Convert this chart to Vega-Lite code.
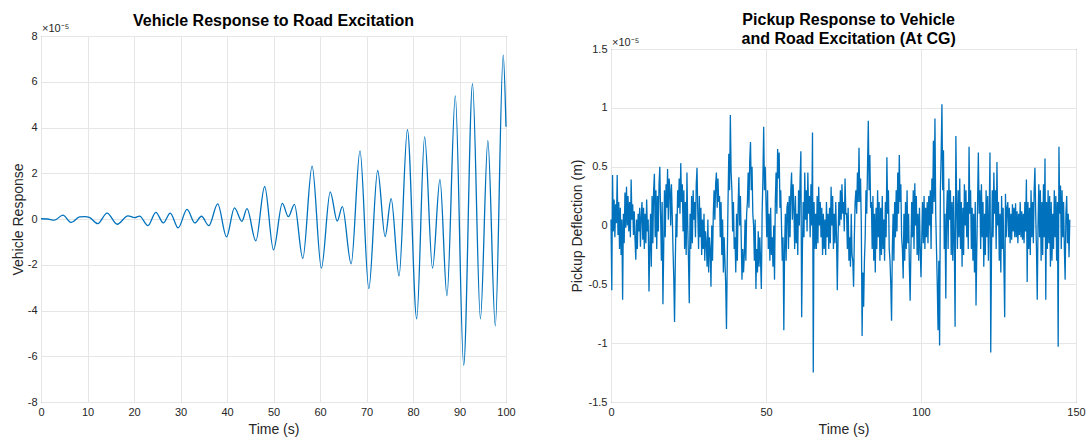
{
  "$schema": "https://vega.github.io/schema/vega-lite/v6.json",
  "padding": {"left": 10, "top": 11, "right": 0, "bottom": 0},
  "background": "white",
  "config": {
    "font": "Liberation Sans",
    "view": {"stroke": "#5a5a5a", "strokeWidth": 1},
    "axis": {
      "labelFont": "Liberation Sans", "labelFontSize": 11, "labelColor": "#262626",
      "titleFont": "Liberation Sans", "titleFontSize": 14, "titleFontWeight": "normal", "titleColor": "#262626",
      "gridColor": "#e6e6e6", "gridWidth": 1, "domain": false, "labelFlush": false,
      "ticks": false, "labelPadding": 4, "labelExpr": "datum.value + ''"
    },
    "title": {"font": "Liberation Sans", "fontSize": 16, "fontWeight": "bold", "color": "#000000", "anchor": "middle", "lineHeight": 19}
  },
  "datasets": {
    "vehicle": [
      {"t":0,"v":0.01},{"t":1.4,"v":0.0},{"t":2.9,"v":-0.05},{"t":4.7,"v":0.17},{"t":6.5,"v":-0.15},{"t":8.3,"v":0.09},{"t":9.4,"v":0.1},{"t":10.4,"v":0.07},{"t":12.2,"v":-0.2},{"t":14.2,"v":0.26},{"t":16.4,"v":-0.23},{"t":18.7,"v":0.14},{"t":20.1,"v":0.06},{"t":21.2,"v":0.13},{"t":23.0,"v":-0.29},{"t":24.7,"v":0.29},{"t":26.3,"v":-0.17},{"t":27.8,"v":0.26},{"t":29.5,"v":-0.39},{"t":31.4,"v":0.42},{"t":33.1,"v":-0.17},{"t":34.5,"v":0.12},{"t":36.1,"v":-0.29},{"t":38.0,"v":0.66},{"t":39.9,"v":-0.78},{"t":41.6,"v":0.49},{"t":43.2,"v":-0.1},{"t":44.3,"v":0.45},{"t":46.2,"v":-0.96},{"t":48.1,"v":1.42},{"t":50.0,"v":-1.35},{"t":51.9,"v":0.68},{"t":53.2,"v":0.1},{"t":54.5,"v":0.64},{"t":56.3,"v":-1.72},{"t":58.3,"v":2.31},{"t":60.3,"v":-2.15},{"t":62.2,"v":1.19},{"t":63.7,"v":-0.09},{"t":64.8,"v":0.54},{"t":66.7,"v":-1.96},{"t":68.6,"v":2.98},{"t":70.5,"v":-3.04},{"t":72.4,"v":2.12},{"t":74.0,"v":-0.77},{"t":75.3,"v":0.89},{"t":77.0,"v":-2.49},{"t":78.8,"v":3.91},{"t":80.8,"v":-4.36},{"t":82.5,"v":3.59},{"t":84.2,"v":-2.15},{"t":85.8,"v":1.73},{"t":87.3,"v":-3.36},{"t":89.1,"v":5.38},{"t":90.9,"v":-6.4},{"t":92.8,"v":5.92},{"t":94.5,"v":-4.36},{"t":96.1,"v":3.42},{"t":97.7,"v":-4.67},{"t":99.4,"v":7.16},{"t":100,"v":4.03}
    ],
    "pickup": [
      {"t":0,"v":0.05},{"t":0.25,"v":-0.55},{"t":0.5,"v":0.43},{"t":0.75,"v":-0.05},
      {"t":1,"v":0.22},{"t":1.25,"v":-0.1},{"t":1.5,"v":0.18},{"t":1.75,"v":0.02},
      {"t":2,"v":0.43},{"t":2.25,"v":-0.08},{"t":2.5,"v":0.2},{"t":2.75,"v":-0.2},
      {"t":3,"v":0.15},{"t":3.25,"v":-0.25},{"t":3.5,"v":0.05},{"t":3.75,"v":-0.63},
      {"t":4,"v":0.1},{"t":4.25,"v":-0.15},{"t":4.5,"v":0.28},{"t":4.75,"v":-0.02},
      {"t":5,"v":0.33},{"t":5.25,"v":0.0},{"t":5.5,"v":0.25},{"t":5.75,"v":-0.05},
      {"t":6,"v":0.2},{"t":6.25,"v":-0.1},{"t":6.5,"v":0.39},{"t":6.75,"v":0.05},
      {"t":7,"v":0.18},{"t":7.25,"v":-0.08},{"t":7.5,"v":0.12},{"t":7.75,"v":-0.12},
      {"t":8,"v":-0.29},{"t":8.25,"v":0.05},{"t":8.5,"v":-0.2},{"t":8.75,"v":0.1},
      {"t":9,"v":-0.05},{"t":9.25,"v":0.15},{"t":9.5,"v":-0.18},{"t":9.75,"v":0.08},
      {"t":10,"v":0.2},{"t":10.25,"v":-0.12},{"t":10.5,"v":0.15},{"t":10.75,"v":-0.2},
      {"t":11,"v":0.1},{"t":11.25,"v":-0.15},{"t":11.5,"v":0.22},{"t":11.75,"v":-0.05},
      {"t":12,"v":0.05},{"t":12.25,"v":-0.56},{"t":12.5,"v":-0.2},{"t":12.75,"v":0.1},
      {"t":13,"v":-0.35},{"t":13.25,"v":0.25},{"t":13.5,"v":-0.15},{"t":13.75,"v":0.3},
      {"t":14,"v":0.44},{"t":14.25,"v":-0.1},{"t":14.5,"v":0.3},{"t":14.75,"v":-0.2},
      {"t":15,"v":0.25},{"t":15.25,"v":-0.05},{"t":15.5,"v":0.35},{"t":15.75,"v":0.5},
      {"t":16,"v":0.1},{"t":16.25,"v":-0.3},{"t":16.5,"v":0.2},{"t":16.75,"v":-0.67},
      {"t":17,"v":-0.2},{"t":17.25,"v":0.3},{"t":17.5,"v":-0.1},{"t":17.75,"v":0.35},
      {"t":18,"v":0.15},{"t":18.25,"v":0.48},{"t":18.5,"v":0.05},{"t":18.75,"v":0.4},
      {"t":19,"v":0.3},{"t":19.25,"v":0.0},{"t":19.5,"v":0.35},{"t":19.75,"v":0.1},
      {"t":20,"v":-0.2},{"t":20.25,"v":-0.45},{"t":20.5,"v":-0.82},{"t":20.75,"v":-0.3},
      {"t":21,"v":0.1},{"t":21.25,"v":-0.1},{"t":21.5,"v":0.3},{"t":21.75,"v":0.15},
      {"t":22,"v":0.4},{"t":22.25,"v":0.1},{"t":22.5,"v":0.53},{"t":22.75,"v":0.2},
      {"t":23,"v":0.35},{"t":23.25,"v":-0.05},{"t":23.5,"v":0.3},{"t":23.75,"v":-0.2},
      {"t":24,"v":0.2},{"t":24.25,"v":-0.25},{"t":24.5,"v":0.45},{"t":24.75,"v":0.0},
      {"t":25,"v":-0.3},{"t":25.25,"v":-0.66},{"t":25.5,"v":0.1},{"t":25.75,"v":-0.2},
      {"t":26,"v":0.25},{"t":26.25,"v":-0.15},{"t":26.5,"v":0.3},{"t":26.75,"v":0.05},
      {"t":27,"v":0.2},{"t":27.25,"v":-0.1},{"t":27.5,"v":0.35},{"t":27.75,"v":0.49},
      {"t":28,"v":0.1},{"t":28.25,"v":-0.2},{"t":28.5,"v":0.25},{"t":28.75,"v":-0.1},
      {"t":29,"v":0.15},{"t":29.25,"v":-0.25},{"t":29.5,"v":0.05},{"t":29.75,"v":-0.2},
      {"t":30,"v":0.1},{"t":30.25,"v":-0.3},{"t":30.5,"v":-0.05},{"t":30.75,"v":-0.15},
      {"t":31,"v":-0.35},{"t":31.25,"v":0.05},{"t":31.5,"v":-0.4},{"t":31.75,"v":-0.1},
      {"t":32,"v":-0.2},{"t":32.25,"v":-0.52},{"t":32.5,"v":0.0},{"t":32.75,"v":-0.3},
      {"t":33,"v":0.1},{"t":33.25,"v":0.3},{"t":33.5,"v":0.05},{"t":33.75,"v":0.35},
      {"t":34,"v":0.45},{"t":34.25,"v":0.15},{"t":34.5,"v":0.4},{"t":34.75,"v":0.2},
      {"t":35,"v":0.25},{"t":35.25,"v":-0.1},{"t":35.5,"v":0.2},{"t":35.75,"v":-0.25},
      {"t":36,"v":0.05},{"t":36.25,"v":-0.4},{"t":36.5,"v":-0.1},{"t":36.75,"v":-0.3},
      {"t":37,"v":-0.5},{"t":37.25,"v":-0.88},{"t":37.5,"v":-0.3},{"t":37.75,"v":0.2},
      {"t":38,"v":0.61},{"t":38.25,"v":0.3},{"t":38.5,"v":0.94},{"t":38.75,"v":0.45},
      {"t":39,"v":0.3},{"t":39.25,"v":-0.05},{"t":39.5,"v":0.2},{"t":39.75,"v":-0.2},
      {"t":40,"v":-0.1},{"t":40.25,"v":-0.4},{"t":40.5,"v":0.1},{"t":40.75,"v":-0.3},
      {"t":41,"v":0.15},{"t":41.25,"v":0.41},{"t":41.5,"v":0.0},{"t":41.75,"v":0.25},
      {"t":42,"v":-0.1},{"t":42.25,"v":-0.46},{"t":42.5,"v":-0.2},{"t":42.75,"v":-0.4},
      {"t":43,"v":-0.25},{"t":43.25,"v":0.05},{"t":43.5,"v":-0.3},{"t":43.75,"v":0.1},
      {"t":44,"v":0.2},{"t":44.25,"v":0.45},{"t":44.5,"v":0.15},{"t":44.75,"v":0.55},
      {"t":45,"v":0.71},{"t":45.25,"v":0.3},{"t":45.5,"v":0.5},{"t":45.75,"v":0.1},
      {"t":46,"v":0.0},{"t":46.25,"v":-0.3},{"t":46.5,"v":0.05},{"t":46.75,"v":-0.54},
      {"t":47,"v":-0.2},{"t":47.25,"v":-0.4},{"t":47.5,"v":-0.05},{"t":47.75,"v":-0.35},
      {"t":48,"v":-0.1},{"t":48.25,"v":-0.3},{"t":48.5,"v":-0.54},{"t":48.75,"v":0.1},
      {"t":49,"v":0.4},{"t":49.25,"v":0.84},{"t":49.5,"v":0.3},{"t":49.75,"v":0.5},
      {"t":50,"v":0.2},{"t":50.25,"v":-0.1},{"t":50.5,"v":0.3},{"t":50.75,"v":-0.2},
      {"t":51,"v":0.1},{"t":51.25,"v":-0.3},{"t":51.5,"v":0.15},{"t":51.75,"v":-0.25},
      {"t":52,"v":-0.1},{"t":52.25,"v":-0.35},{"t":52.5,"v":0.0},{"t":52.75,"v":-0.46},
      {"t":53,"v":0.2},{"t":53.25,"v":0.45},{"t":53.5,"v":0.1},{"t":53.75,"v":0.65},
      {"t":54,"v":0.4},{"t":54.25,"v":0.62},{"t":54.5,"v":0.15},{"t":54.75,"v":0.3},
      {"t":55,"v":0.0},{"t":55.25,"v":-0.3},{"t":55.5,"v":-0.1},{"t":55.75,"v":-0.89},
      {"t":56,"v":-0.2},{"t":56.25,"v":0.1},{"t":56.5,"v":-0.3},{"t":56.75,"v":0.15},
      {"t":57,"v":0.2},{"t":57.25,"v":-0.2},{"t":57.5,"v":0.25},{"t":57.75,"v":-0.1},
      {"t":58,"v":0.3},{"t":58.25,"v":0.45},{"t":58.5,"v":0.05},{"t":58.75,"v":0.35},
      {"t":59,"v":0.15},{"t":59.25,"v":-0.2},{"t":59.5,"v":0.25},{"t":59.75,"v":-0.15},
      {"t":60,"v":0.1},{"t":60.25,"v":-0.25},{"t":60.5,"v":0.3},{"t":60.75,"v":0.0},
      {"t":61,"v":0.4},{"t":61.25,"v":0.63},{"t":61.5,"v":-0.78},{"t":61.75,"v":-0.2},
      {"t":62,"v":0.2},{"t":62.25,"v":-0.1},{"t":62.5,"v":0.45},{"t":62.75,"v":0.05},
      {"t":63,"v":0.3},{"t":63.25,"v":-0.05},{"t":63.5,"v":0.45},{"t":63.75,"v":0.1},
      {"t":64,"v":0.25},{"t":64.25,"v":-0.1},{"t":64.5,"v":0.35},{"t":64.75,"v":0.0},
      {"t":65,"v":0.79},{"t":65.25,"v":-1.25},{"t":65.5,"v":0.2},{"t":65.75,"v":-0.2},
      {"t":66,"v":0.1},{"t":66.25,"v":-0.2},{"t":66.5,"v":0.25},{"t":66.75,"v":-0.15},
      {"t":67,"v":0.33},{"t":67.25,"v":0.0},{"t":67.5,"v":0.2},{"t":67.75,"v":-0.1},
      {"t":68,"v":0.15},{"t":68.25,"v":-0.25},{"t":68.5,"v":0.1},{"t":68.75,"v":-0.2},
      {"t":69,"v":0.05},{"t":69.25,"v":-0.25},{"t":69.5,"v":0.2},{"t":69.75,"v":-0.1},
      {"t":70,"v":0.1},{"t":70.25,"v":-0.2},{"t":70.5,"v":0.15},{"t":70.75,"v":-0.15},
      {"t":71,"v":0.33},{"t":71.25,"v":0.0},{"t":71.5,"v":0.25},{"t":71.75,"v":-0.2},
      {"t":72,"v":0.1},{"t":72.25,"v":-0.15},{"t":72.5,"v":0.2},{"t":72.75,"v":-0.1},
      {"t":73,"v":-0.55},{"t":73.25,"v":-0.1},{"t":73.5,"v":0.2},{"t":73.75,"v":0.0},
      {"t":74,"v":0.3},{"t":74.25,"v":0.05},{"t":74.5,"v":0.35},{"t":74.75,"v":0.1},
      {"t":75,"v":0.2},{"t":75.25,"v":-0.05},{"t":75.5,"v":0.4},{"t":75.75,"v":0.1},
      {"t":76,"v":0.1},{"t":76.25,"v":-0.2},{"t":76.5,"v":0.15},{"t":76.75,"v":-0.3},
      {"t":77,"v":-0.1},{"t":77.25,"v":-0.35},{"t":77.5,"v":0.1},{"t":77.75,"v":-0.25},
      {"t":78,"v":-0.3},{"t":78.25,"v":-0.52},{"t":78.5,"v":-0.1},{"t":78.75,"v":0.2},
      {"t":79,"v":0.3},{"t":79.25,"v":0.1},{"t":79.5,"v":0.45},{"t":79.75,"v":0.2},
      {"t":80,"v":0.66},{"t":80.25,"v":0.2},{"t":80.5,"v":0.4},{"t":80.75,"v":0.0},
      {"t":81,"v":-0.94},{"t":81.25,"v":-0.4},{"t":81.5,"v":-0.69},{"t":81.75,"v":-0.3},
      {"t":82,"v":-0.1},{"t":82.25,"v":0.3},{"t":82.5,"v":0.1},{"t":82.75,"v":0.5},
      {"t":83,"v":0.89},{"t":83.25,"v":0.3},{"t":83.5,"v":0.6},{"t":83.75,"v":0.15},
      {"t":84,"v":0.2},{"t":84.25,"v":-0.2},{"t":84.5,"v":0.25},{"t":84.75,"v":-0.3},
      {"t":85,"v":0.1},{"t":85.25,"v":-0.4},{"t":85.5,"v":0.15},{"t":85.75,"v":-0.2},
      {"t":86,"v":0.3},{"t":86.25,"v":-0.1},{"t":86.5,"v":0.2},{"t":86.75,"v":-0.3},
      {"t":87,"v":0.15},{"t":87.25,"v":-0.25},{"t":87.5,"v":0.25},{"t":87.75,"v":-0.2},
      {"t":88,"v":0.05},{"t":88.25,"v":-0.3},{"t":88.5,"v":0.2},{"t":88.75,"v":-0.1},
      {"t":89,"v":0.58},{"t":89.25,"v":0.1},{"t":89.5,"v":0.3},{"t":89.75,"v":-0.2},
      {"t":90,"v":-0.3},{"t":90.25,"v":-0.5},{"t":90.5,"v":-0.81},{"t":90.75,"v":-0.2},
      {"t":91,"v":0.1},{"t":91.25,"v":-0.3},{"t":91.5,"v":0.2},{"t":91.75,"v":-0.1},
      {"t":92,"v":0.3},{"t":92.25,"v":-0.05},{"t":92.5,"v":0.45},{"t":92.75,"v":0.1},
      {"t":93,"v":0.6},{"t":93.25,"v":0.2},{"t":93.5,"v":0.35},{"t":93.75,"v":-0.1},
      {"t":94,"v":-0.2},{"t":94.25,"v":-0.45},{"t":94.5,"v":0.1},{"t":94.75,"v":-0.3},
      {"t":95,"v":0.2},{"t":95.25,"v":-0.2},{"t":95.5,"v":0.3},{"t":95.75,"v":-0.15},
      {"t":96,"v":0.1},{"t":96.25,"v":-0.35},{"t":96.5,"v":-0.64},{"t":96.75,"v":-0.2},
      {"t":97,"v":0.2},{"t":97.25,"v":-0.1},{"t":97.5,"v":0.3},{"t":97.75,"v":-0.2},
      {"t":98,"v":0.36},{"t":98.25,"v":0.0},{"t":98.5,"v":0.25},{"t":98.75,"v":-0.25},
      {"t":99,"v":0.1},{"t":99.25,"v":-0.3},{"t":99.5,"v":0.15},{"t":99.75,"v":-0.2},
      {"t":100,"v":-0.44},{"t":100.25,"v":-0.1},{"t":100.5,"v":0.2},{"t":100.75,"v":-0.15},
      {"t":101,"v":0.25},{"t":101.25,"v":-0.2},{"t":101.5,"v":0.15},{"t":101.75,"v":-0.1},
      {"t":102,"v":0.2},{"t":102.25,"v":-0.15},{"t":102.5,"v":0.25},{"t":102.75,"v":0.0},
      {"t":103,"v":0.3},{"t":103.25,"v":-0.2},{"t":103.5,"v":0.4},{"t":103.75,"v":0.1},
      {"t":104,"v":0.72},{"t":104.25,"v":0.2},{"t":104.5,"v":0.91},{"t":104.75,"v":0.1},
      {"t":105,"v":-0.2},{"t":105.25,"v":-0.5},{"t":105.5,"v":-0.89},{"t":105.75,"v":-0.3},
      {"t":106,"v":-1.02},{"t":106.25,"v":0.3},{"t":106.5,"v":0.6},{"t":106.75,"v":1.03},
      {"t":107,"v":0.3},{"t":107.25,"v":0.64},{"t":107.5,"v":-0.2},{"t":107.75,"v":0.1},
      {"t":108,"v":-0.62},{"t":108.25,"v":0.1},{"t":108.5,"v":0.3},{"t":108.75,"v":-0.2},
      {"t":109,"v":0.4},{"t":109.25,"v":0.05},{"t":109.5,"v":0.3},{"t":109.75,"v":-0.25},
      {"t":110,"v":0.2},{"t":110.25,"v":-0.3},{"t":110.5,"v":0.25},{"t":110.75,"v":-0.15},
      {"t":111,"v":-0.86},{"t":111.25,"v":0.76},{"t":111.5,"v":0.2},{"t":111.75,"v":-0.2},
      {"t":112,"v":0.3},{"t":112.25,"v":-0.1},{"t":112.5,"v":0.4},{"t":112.75,"v":-0.2},
      {"t":113,"v":0.2},{"t":113.25,"v":-0.35},{"t":113.5,"v":0.15},{"t":113.75,"v":-0.25},
      {"t":114,"v":0.35},{"t":114.25,"v":0.0},{"t":114.5,"v":0.3},{"t":114.75,"v":-0.1},
      {"t":115,"v":0.2},{"t":115.25,"v":-0.2},{"t":115.5,"v":0.67},{"t":115.75,"v":0.1},
      {"t":116,"v":0.3},{"t":116.25,"v":-0.2},{"t":116.5,"v":0.15},{"t":116.75,"v":-0.3},
      {"t":117,"v":0.1},{"t":117.25,"v":-0.4},{"t":117.5,"v":0.2},{"t":117.75,"v":-0.68},
      {"t":118,"v":-0.2},{"t":118.25,"v":0.2},{"t":118.5,"v":0.62},{"t":118.75,"v":0.1},
      {"t":119,"v":0.3},{"t":119.25,"v":-0.2},{"t":119.5,"v":0.35},{"t":119.75,"v":-0.1},
      {"t":120,"v":0.2},{"t":120.25,"v":-0.35},{"t":120.5,"v":0.1},{"t":120.75,"v":-0.25},
      {"t":121,"v":0.3},{"t":121.25,"v":-0.1},{"t":121.5,"v":0.25},{"t":121.75,"v":-0.3},
      {"t":122,"v":0.1},{"t":122.25,"v":0.62},{"t":122.5,"v":-1.08},{"t":122.75,"v":-0.2},
      {"t":123,"v":0.3},{"t":123.25,"v":-0.1},{"t":123.5,"v":0.45},{"t":123.75,"v":0.1},
      {"t":124,"v":0.3},{"t":124.25,"v":-0.2},{"t":124.5,"v":0.54},{"t":124.75,"v":0.0},
      {"t":125,"v":0.2},{"t":125.25,"v":-0.3},{"t":125.5,"v":0.1},{"t":125.75,"v":-0.4},
      {"t":126,"v":0.25},{"t":126.25,"v":-0.2},{"t":126.5,"v":0.15},{"t":126.75,"v":-0.35},
      {"t":127,"v":-0.78},{"t":127.25,"v":0.27},{"t":127.5,"v":-0.1},{"t":127.75,"v":0.15},
      {"t":128,"v":0.2},{"t":128.25,"v":-0.1},{"t":128.5,"v":0.15},{"t":128.75,"v":-0.15},
      {"t":129,"v":0.1},{"t":129.25,"v":-0.12},{"t":129.5,"v":0.18},{"t":129.75,"v":-0.05},
      {"t":130,"v":0.15},{"t":130.25,"v":-0.1},{"t":130.5,"v":0.19},{"t":130.75,"v":-0.1},
      {"t":131,"v":0.12},{"t":131.25,"v":-0.15},{"t":131.5,"v":0.1},{"t":131.75,"v":-0.08},
      {"t":132,"v":0.2},{"t":132.25,"v":-0.1},{"t":132.5,"v":0.12},{"t":132.75,"v":-0.12},
      {"t":133,"v":0.1},{"t":133.25,"v":-0.15},{"t":133.5,"v":0.2},{"t":133.75,"v":-0.05},
      {"t":134,"v":0.39},{"t":134.25,"v":-0.48},{"t":134.5,"v":0.2},{"t":134.75,"v":-0.2},
      {"t":135,"v":0.15},{"t":135.25,"v":-0.25},{"t":135.5,"v":0.3},{"t":135.75,"v":-0.1},
      {"t":136,"v":0.2},{"t":136.25,"v":-0.15},{"t":136.5,"v":0.3},{"t":136.75,"v":0.49},
      {"t":137,"v":0.1},{"t":137.25,"v":-0.2},{"t":137.5,"v":-0.63},{"t":137.75,"v":0.0},
      {"t":138,"v":0.35},{"t":138.25,"v":-0.1},{"t":138.5,"v":0.3},{"t":138.75,"v":-0.3},
      {"t":139,"v":0.2},{"t":139.25,"v":-0.25},{"t":139.5,"v":0.35},{"t":139.75,"v":-0.1},
      {"t":140,"v":0.57},{"t":140.25,"v":-0.63},{"t":140.5,"v":0.2},{"t":140.75,"v":-0.2},
      {"t":141,"v":0.3},{"t":141.25,"v":-0.15},{"t":141.5,"v":0.25},{"t":141.75,"v":-0.35},
      {"t":142,"v":0.2},{"t":142.25,"v":-0.3},{"t":142.5,"v":0.1},{"t":142.75,"v":-0.2},
      {"t":143,"v":0.3},{"t":143.25,"v":-0.1},{"t":143.5,"v":0.25},{"t":143.75,"v":-0.3},
      {"t":144,"v":0.2},{"t":144.25,"v":-1.03},{"t":144.5,"v":0.67},{"t":144.75,"v":0.1},
      {"t":145,"v":0.34},{"t":145.25,"v":-0.2},{"t":145.5,"v":0.3},{"t":145.75,"v":-0.1},
      {"t":146,"v":0.2},{"t":146.25,"v":-0.2},{"t":146.5,"v":-0.46},{"t":146.75,"v":0.1},
      {"t":147,"v":0.25},{"t":147.25,"v":-0.15},{"t":147.5,"v":0.1},{"t":147.75,"v":-0.27},
      {"t":148,"v":0.05}
    ]
  },
  "spacing": 53,
  "hconcat": [
    {
      "width": 465,
      "height": 366,
      "title": {"text": "Vehicle Response to Road Excitation", "offset": -6, "frame": "group"},
      "layer": [
        {
          "data": {"name": "vehicle"},
          "mark": {"type": "line", "interpolate": "monotone", "color": "#0072BD", "strokeWidth": 1.3},
          "encoding": {
            "x": {"field": "t", "type": "quantitative", "scale": {"domain": [0, 100], "nice": false},
                  "axis": {"title": "Time (s)", "values": [0,10,20,30,40,50,60,70,80,90,100], "titlePadding": 5}},
            "y": {"field": "v", "type": "quantitative", "scale": {"domain": [-8, 8], "nice": false},
                  "axis": {"title": "Vehicle Response", "values": [-8,-6,-4,-2,0,2,4,6,8], "titlePadding": 2}}
          }
        },
        {
          "data": {"values": [{"t": 0, "v": 8, "label": "×10⁻⁵"}]},
          "mark": {"type": "text", "align": "left", "baseline": "alphabetic", "dx": 1, "dy": -4, "fontSize": 11, "color": "#262626"},
          "encoding": {
            "x": {"field": "t", "type": "quantitative"},
            "y": {"field": "v", "type": "quantitative"},
            "text": {"field": "label"}
          }
        }
      ]
    },
    {
      "title": {"text": ["Pickup Response to Vehicle", "and Road Excitation (At CG)"], "offset": -16, "frame": "bounds", "dx": 21},
      "spacing": -6,
      "vconcat": [
        {
          "width": 465,
          "height": 1,
          "view": {"stroke": null},
          "data": {"values": [{"label": ""}]},
          "mark": {"type": "text"},
          "encoding": {"text": {"field": "label"}}
        },
        {
          "width": 465,
          "height": 353,
          "layer": [
            {
              "data": {"name": "pickup"},
              "mark": {"type": "line", "color": "#0072BD", "strokeWidth": 1.3},
              "encoding": {
                "x": {"field": "t", "type": "quantitative", "scale": {"domain": [0, 150], "nice": false},
                      "axis": {"title": "Time (s)", "values": [0,50,100,150], "titlePadding": 5}},
                "y": {"field": "v", "type": "quantitative", "scale": {"domain": [-1.5, 1.5], "nice": false},
                      "axis": {"title": "Pickup Deflection (m)", "values": [-1.5,-1,-0.5,0,0.5,1,1.5], "titlePadding": 4}}
              }
            },
            {
              "data": {"values": [{"t": 0, "v": 1.5, "label": "×10⁻⁵"}]},
              "mark": {"type": "text", "align": "left", "baseline": "alphabetic", "dx": 1, "dy": -3, "fontSize": 11, "color": "#262626"},
              "encoding": {
                "x": {"field": "t", "type": "quantitative"},
                "y": {"field": "v", "type": "quantitative"},
                "text": {"field": "label"}
              }
            }
          ]
        }
      ]
    }
  ]
}
